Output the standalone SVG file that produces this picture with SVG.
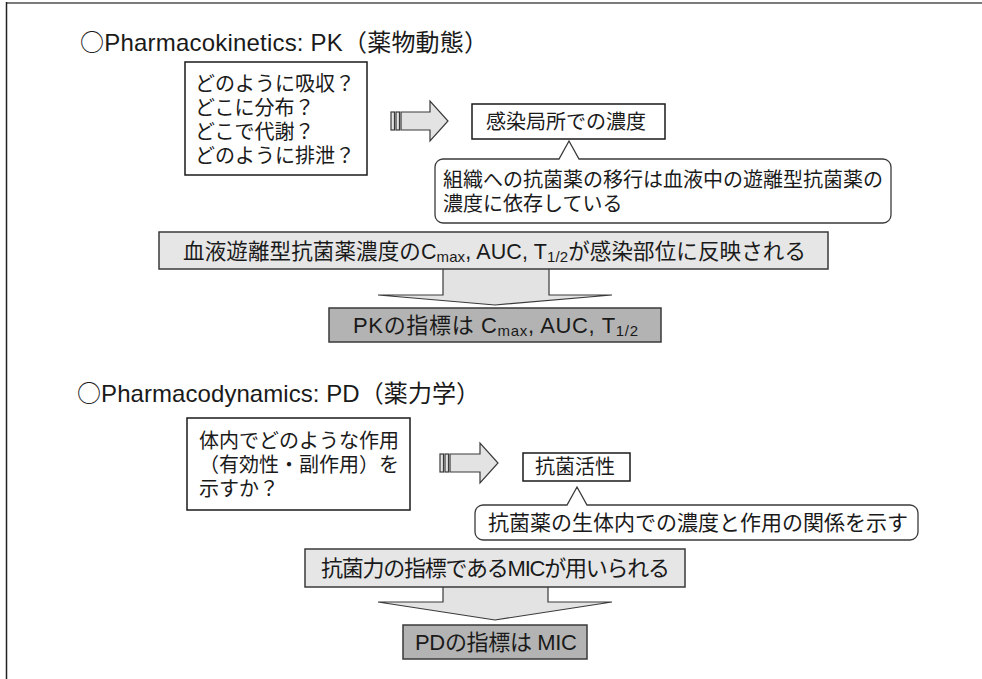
<svg xmlns="http://www.w3.org/2000/svg" width="982" height="679" viewBox="0 0 982 679">
<style>
.t{font-family:'Liberation Sans','Noto Sans CJK JP',sans-serif;fill:#1a1a1a}
.j{font-family:'Noto Sans CJK JP',sans-serif}
.s20{font-size:20px}.s21{font-size:21px}.s215{font-size:21.5px}.s22{font-size:22px}.s24{font-size:24px}
.sub{font-size:15px}
.box{fill:#fff;stroke:#1a1a1a;stroke-width:1.5}
.bar{fill:#e6e6e6;stroke:#3a3a3a;stroke-width:1.5}
.dark{fill:#b3b3b3;stroke:#3a3a3a;stroke-width:1.5}
.arr{fill:#e3e3e3;stroke:#3a3a3a;stroke-width:1.2;stroke-linejoin:miter}
.call{fill:#fff;stroke:#3a3a3a;stroke-width:1.3}
</style>
<rect width="982" height="679" fill="#fff"/>
<g id="frame">
<line x1="6" y1="3" x2="982" y2="3" stroke="#7a7a7a" stroke-width="2"/>
<line x1="6.5" y1="2" x2="6.5" y2="679" stroke="#222" stroke-width="1.5"/>
</g>
<g id="connectors">
<g id="arrowPK1">
<rect class="arr" x="391" y="112" width="3.5" height="18"/>
<rect class="arr" x="396" y="112" width="3.5" height="18"/>
<path class="arr" d="M401,112 H430 V101 L448,121 L430,141 V130 H401 Z"/>
</g>
<g id="arrowPD1">
<rect class="arr" x="440" y="454" width="3.5" height="18"/>
<rect class="arr" x="445" y="454" width="3.5" height="18"/>
<path class="arr" d="M450,454 H480 V443 L498,463 L480,483 V472 H450 Z"/>
</g>
<path id="arrowPK2" class="arr" d="M443,262 V295 H378 L495,305 L612,295 H549 V262 Z"/>
<path id="arrowPD2" class="arr" d="M443,580 V602 H378 L495,620 L612,602 H548 V580 Z"/>
</g>
<text id="titlePK" class="t s24" x="80" y="51" textLength="408"><tspan class="j">○</tspan>Pharmacokinetics: PK（薬物動態）</text>
<g id="pkQuestions">
<rect class="box" x="185" y="62" width="182" height="113"/>
<text class="t s20" x="195" y="91">どのように吸収？</text>
<text class="t s20" x="195" y="115">どこに分布？</text>
<text class="t s20" x="195" y="139">どこで代謝？</text>
<text class="t s20" x="195" y="163">どのように排泄？</text>
</g>
<g id="pkSite">
<rect class="box" x="472" y="104" width="193" height="35"/>
<text class="t s20" x="486" y="129">感染局所での濃度</text>
</g>
<g id="pkNote">
<path class="call" d="M443,159 H559 L569,141 L579,159 H883 A8,8 0 0 1 891,167 V215 A8,8 0 0 1 883,223 H443 A8,8 0 0 1 435,215 V167 A8,8 0 0 1 443,159 Z"/>
<text class="t s20" x="443" y="187">組織への抗菌薬の移行は血液中の遊離型抗菌薬の</text>
<text class="t s20" x="443" y="211">濃度に依存している</text>
</g>
<g id="pkBar">
<rect class="bar" x="159" y="232" width="669" height="37"/>
<text class="t s215" x="183" y="259" textLength="623">血液遊離型抗菌薬濃度のC<tspan class="sub" dy="3">max</tspan><tspan dy="-3">, AUC, T</tspan><tspan class="sub" dy="3">1/2</tspan><tspan dy="-3">が感染部位に反映される</tspan></text>
</g>
<g id="pkIndex">
<rect class="dark" x="329" y="308" width="332" height="34"/>
<text class="t s22" x="353" y="333" textLength="285">PKの指標は C<tspan class="sub" dy="3">max</tspan><tspan dy="-3">, AUC, T</tspan><tspan class="sub" dy="3">1/2</tspan></text>
</g>
<text id="titlePD" class="t s24" x="77" y="402" textLength="403"><tspan class="j">○</tspan>Pharmacodynamics: PD（薬力学）</text>
<g id="pdQuestion">
<rect class="box" x="187" y="418" width="223" height="92"/>
<text class="t s20" x="199" y="448">体内でどのような作用</text>
<text class="t s20" x="199" y="472">（有効性・副作用）を</text>
<text class="t s20" x="199" y="496">示すか？</text>
</g>
<g id="pdActivity">
<rect class="box" x="523" y="453" width="107" height="28"/>
<text class="t s20" x="535" y="474">抗菌活性</text>
</g>
<g id="pdNote">
<path class="call" d="M483,505 H567 L577,487 L587,505 H910 A8,8 0 0 1 918,513 V532 A8,8 0 0 1 910,540 H483 A8,8 0 0 1 475,532 V513 A8,8 0 0 1 483,505 Z"/>
<text class="t s21" x="488" y="530">抗菌薬の生体内での濃度と作用の関係を示す</text>
</g>
<g id="pdBar">
<rect class="bar" x="305" y="549" width="380" height="38"/>
<text class="t s22" x="321" y="576" textLength="349">抗菌力の指標であるMICが用いられる</text>
</g>
<g id="pdIndex">
<rect class="dark" x="403" y="625" width="184" height="34"/>
<text class="t s22" x="415" y="650" textLength="162">PDの指標は MIC</text>
</g>
</svg>
